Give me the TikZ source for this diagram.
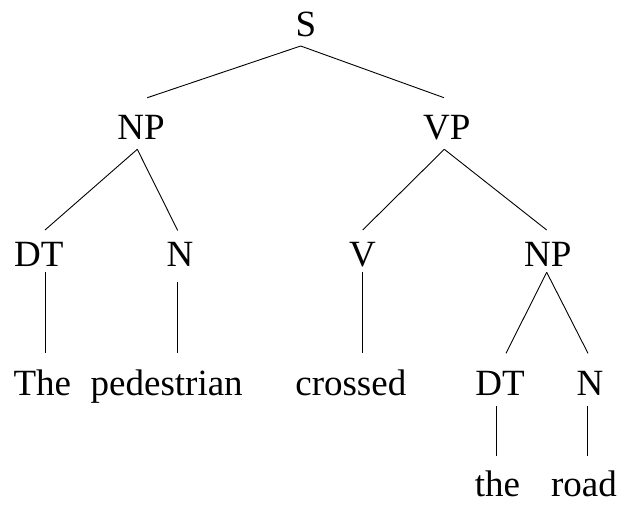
\documentclass[tikz,border=0pt]{standalone}
\usepackage{fontspec}
\setmainfont{Liberation Serif}
\begin{document}
\begin{tikzpicture}[x=1pt,y=-1pt,
  lbl/.style={anchor=base,inner sep=0pt,font=\fontsize{37}{40}\selectfont},
  edge/.style={line width=0.9pt}]
\useasboundingbox (0,0) rectangle (623,504);
% labels
\node[lbl] (S) at (306,36) {S};
\node[lbl] (NP1) at (141,139.3) {NP};
\node[lbl] (VP) at (446.7,139.3) {VP};
\node[lbl] (DT1) at (38.7,266.7) {DT};
\node[lbl] (N1) at (180,266.7) {N};
\node[lbl] (V) at (362.5,266.7) {V};
\node[lbl] (NP2) at (547.7,266.7) {NP};
\node[lbl] (The) at (42.3,395) {The};
\node[lbl] (ped) at (166.7,395) {pedestrian};
\node[lbl] (cro) at (350.8,395) {crossed};
\node[lbl] (DT2) at (500,395) {DT};
\node[lbl] (N2) at (590,395) {N};
\node[lbl] (the) at (497.5,496.7) {the};
\node[lbl] (road) at (584,496.7) {road};
% edge end points
\coordinate (S-b) at (300.7,46);
\coordinate (NP1-t) at (147.3,97.7);
\coordinate (VP-t) at (444,97.7);
\coordinate (NP1-b) at (137.3,149.3);
\coordinate (DT1-t) at (45,230);
\coordinate (N1-t) at (177.7,230.5);
\coordinate (VP-b) at (444.3,149.3);
\coordinate (V-t) at (362.7,230);
\coordinate (NP2-t) at (546.7,230);
\coordinate (DT1-b) at (45,272.3);
\coordinate (The-t) at (45,353.3);
\coordinate (N1-b) at (177.7,282.3);
\coordinate (ped-t) at (177.7,353.3);
\coordinate (V-b) at (362.7,272.3);
\coordinate (cro-t) at (362.7,353.3);
\coordinate (NP2-b) at (546.7,272.3);
\coordinate (DT2-t) at (506,353.3);
\coordinate (N2-t) at (588,353.3);
\coordinate (DT2-b) at (496,406);
\coordinate (the-t) at (496,456);
\coordinate (N2-b) at (587.7,406);
\coordinate (road-t) at (587.7,456);
% edges
\draw[edge] (S-b) -- (NP1-t);
\draw[edge] (S-b) -- (VP-t);
\draw[edge] (NP1-b) -- (DT1-t);
\draw[edge] (NP1-b) -- (N1-t);
\draw[edge] (VP-b) -- (V-t);
\draw[edge] (VP-b) -- (NP2-t);
\draw[edge] (DT1-b) -- (The-t);
\draw[edge] (N1-b) -- (ped-t);
\draw[edge] (V-b) -- (cro-t);
\draw[edge] (NP2-b) -- (DT2-t);
\draw[edge] (NP2-b) -- (N2-t);
\draw[edge] (DT2-b) -- (the-t);
\draw[edge] (N2-b) -- (road-t);
\end{tikzpicture}
\end{document}
